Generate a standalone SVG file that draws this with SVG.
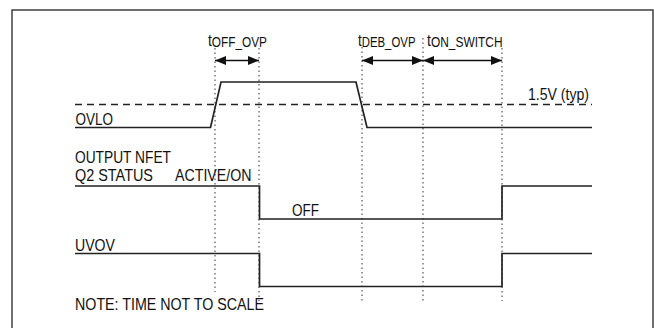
<svg xmlns="http://www.w3.org/2000/svg" width="654" height="328" viewBox="0 0 654 328">
  <style>
    .lbl { font-family: "Liberation Sans", Arial, sans-serif; font-size: 16.5px; fill: #111; }
    .sub { font-size: 14px; }
    .sig { fill: none; stroke: #222; stroke-width: 1.7; }
    .dash { fill: none; stroke: #222; stroke-width: 1.3; stroke-dasharray: 7 5; }
    .dot { fill: none; stroke: #333; stroke-width: 1; stroke-dasharray: 1.5 3; }
    .dim { fill: none; stroke: #111; stroke-width: 1.5; marker-start: url(#ah); marker-end: url(#ah); }
  </style>
  <defs>
    <marker id="ah" markerUnits="userSpaceOnUse" markerWidth="12" markerHeight="10" refX="11" refY="4.5" orient="auto-start-reverse">
      <path d="M0,0 L11,4.5 L0,9 z" fill="#111"/>
    </marker>
  </defs>
  <rect x="12" y="10" width="641" height="330" fill="#fff" stroke="#333" stroke-width="1.4"/>

  <g id="guides">
    <path class="dot" d="M215 48 V292"/>
    <path class="dot" d="M259 48 V301"/>
    <path class="dot" d="M362 47 V301"/>
    <path class="dot" d="M423 38 V301"/>
    <path class="dot" d="M502 48 V301"/>
  </g>

  <g id="connectors">
    <path class="dim" d="M215 60.5 H259"/>
    <path class="dim" d="M362 60.5 H423"/>
    <path class="dim" d="M423 60.5 H502"/>
  </g>

  <g id="threshold">
    <path class="dash" d="M75 104.5 H592"/>
    <text class="lbl" x="528" y="99.5" textLength="61" lengthAdjust="spacingAndGlyphs">1.5V (typ)</text>
  </g>

  <g id="ovlo">
    <path class="sig" d="M75 127.5 H210.5 L221 82 H356 L367 127.5 H592"/>
    <text class="lbl" x="75.5" y="124.5" textLength="37.5" lengthAdjust="spacingAndGlyphs">OVLO</text>
  </g>

  <g id="q2">
    <path class="sig" d="M75 186 H259.5 V219 H502 V186 H592"/>
    <text class="lbl" x="75" y="163" textLength="96" lengthAdjust="spacingAndGlyphs">OUTPUT NFET</text>
    <text class="lbl" x="75" y="181" textLength="78" lengthAdjust="spacingAndGlyphs">Q2 STATUS</text>
    <text class="lbl" x="175" y="181" textLength="76.5" lengthAdjust="spacingAndGlyphs">ACTIVE/ON</text>
    <text class="lbl" x="292" y="215.5" textLength="27" lengthAdjust="spacingAndGlyphs">OFF</text>
  </g>

  <g id="uvov">
    <path class="sig" d="M75 253.5 H259.5 V286.5 H502 V253.5 H592"/>
    <text class="lbl" x="75" y="250.5" textLength="40" lengthAdjust="spacingAndGlyphs">UVOV</text>
  </g>

  <g id="timing-labels">
    <text class="lbl" x="208" y="45.5" textLength="59" lengthAdjust="spacingAndGlyphs">t<tspan class="sub" dy="1">OFF_OVP</tspan></text>
    <text class="lbl" x="358" y="45.5" textLength="57.5" lengthAdjust="spacingAndGlyphs">t<tspan class="sub" dy="1">DEB_OVP</tspan></text>
    <text class="lbl" x="427" y="45.5" textLength="75.5" lengthAdjust="spacingAndGlyphs">t<tspan class="sub" dy="1">ON_SWITCH</tspan></text>
  </g>

  <g id="note">
    <text class="lbl" x="75" y="309.5" textLength="189" lengthAdjust="spacingAndGlyphs">NOTE: TIME NOT TO SCALE</text>
  </g>
</svg>
